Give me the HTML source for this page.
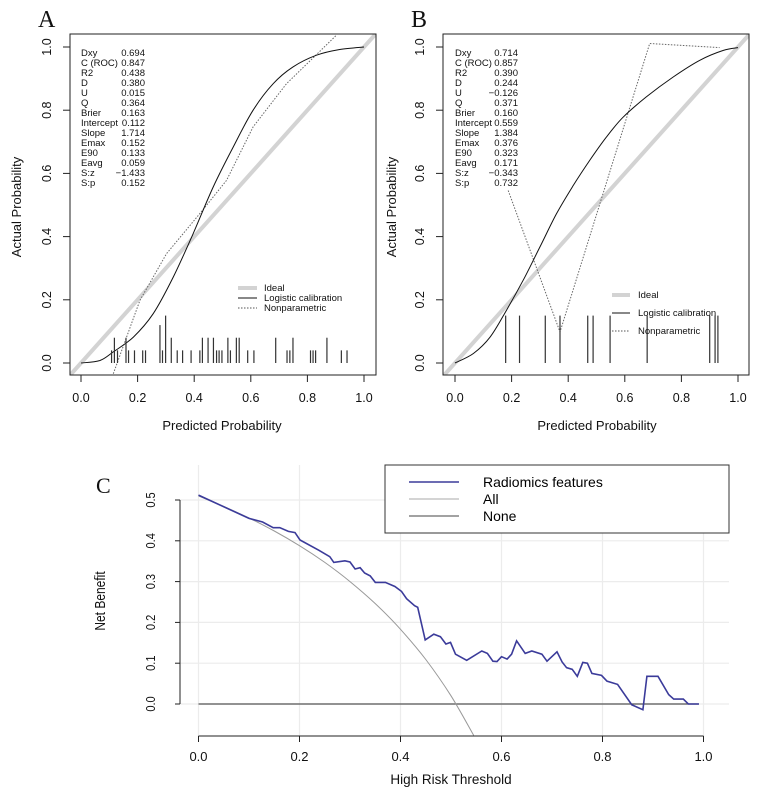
<!DOCTYPE html>
<html><head><meta charset="utf-8">
<style>
html,body{margin:0;padding:0;background:#fff;}
svg{display:block;font-family:"Liberation Sans",sans-serif;}
.st{font-size:9.5px;fill:#111;}
.tk{font-size:12.5px;fill:#111;}
.lab{font-size:13px;fill:#111;}
.pl{font-family:"Liberation Serif",serif;font-size:24px;fill:#111;}
</style></head>
<body>
<svg id="fig" width="778" height="796" viewBox="0 0 778 796">
  <text class="pl" x="38" y="27">A</text>
  <text class="pl" x="411" y="27">B</text>
  <text class="pl" x="96" y="493" style="font-size:22px">C</text>

  <g id="pA"></g>
  <g id="pB"></g>
  <g id="pC"></g>

  <text class="lab" x="222" y="430" text-anchor="middle">Predicted Probability</text>
  <text class="lab" transform="translate(21,207) rotate(-90)" text-anchor="middle">Actual Probability</text>
  <text class="lab" x="597" y="430" text-anchor="middle">Predicted Probability</text>
  <text class="lab" transform="translate(396,207) rotate(-90)" text-anchor="middle">Actual Probability</text>
  <text class="lab" x="451" y="784" text-anchor="middle" style="font-size:13.5px">High Risk Threshold</text>
  <text class="lab" transform="translate(105,601) rotate(-90) scale(0.8,1)" text-anchor="middle" style="font-size:15px">Net Benefit</text>

  <g>
    <text class="st" x="81" y="56">Dxy</text><text class="st" x="145" y="56" text-anchor="end">0.694</text>
    <text class="st" x="81" y="66">C (ROC)</text><text class="st" x="145" y="66" text-anchor="end">0.847</text>
    <text class="st" x="81" y="76">R2</text><text class="st" x="145" y="76" text-anchor="end">0.438</text>
    <text class="st" x="81" y="86">D</text><text class="st" x="145" y="86" text-anchor="end">0.380</text>
    <text class="st" x="81" y="96">U</text><text class="st" x="145" y="96" text-anchor="end">0.015</text>
    <text class="st" x="81" y="106">Q</text><text class="st" x="145" y="106" text-anchor="end">0.364</text>
    <text class="st" x="81" y="116">Brier</text><text class="st" x="145" y="116" text-anchor="end">0.163</text>
    <text class="st" x="81" y="126">Intercept</text><text class="st" x="145" y="126" text-anchor="end">0.112</text>
    <text class="st" x="81" y="136">Slope</text><text class="st" x="145" y="136" text-anchor="end">1.714</text>
    <text class="st" x="81" y="146">Emax</text><text class="st" x="145" y="146" text-anchor="end">0.152</text>
    <text class="st" x="81" y="156">E90</text><text class="st" x="145" y="156" text-anchor="end">0.133</text>
    <text class="st" x="81" y="166">Eavg</text><text class="st" x="145" y="166" text-anchor="end">0.059</text>
    <text class="st" x="81" y="176">S:z</text><text class="st" x="145" y="176" text-anchor="end">−1.433</text>
    <text class="st" x="81" y="186">S:p</text><text class="st" x="145" y="186" text-anchor="end">0.152</text>
  </g>
  <g>
    <text class="st" x="455" y="56">Dxy</text><text class="st" x="518" y="56" text-anchor="end">0.714</text>
    <text class="st" x="455" y="66">C (ROC)</text><text class="st" x="518" y="66" text-anchor="end">0.857</text>
    <text class="st" x="455" y="76">R2</text><text class="st" x="518" y="76" text-anchor="end">0.390</text>
    <text class="st" x="455" y="86">D</text><text class="st" x="518" y="86" text-anchor="end">0.244</text>
    <text class="st" x="455" y="96">U</text><text class="st" x="518" y="96" text-anchor="end">−0.126</text>
    <text class="st" x="455" y="106">Q</text><text class="st" x="518" y="106" text-anchor="end">0.371</text>
    <text class="st" x="455" y="116">Brier</text><text class="st" x="518" y="116" text-anchor="end">0.160</text>
    <text class="st" x="455" y="126">Intercept</text><text class="st" x="518" y="126" text-anchor="end">0.559</text>
    <text class="st" x="455" y="136">Slope</text><text class="st" x="518" y="136" text-anchor="end">1.384</text>
    <text class="st" x="455" y="146">Emax</text><text class="st" x="518" y="146" text-anchor="end">0.376</text>
    <text class="st" x="455" y="156">E90</text><text class="st" x="518" y="156" text-anchor="end">0.323</text>
    <text class="st" x="455" y="166">Eavg</text><text class="st" x="518" y="166" text-anchor="end">0.171</text>
    <text class="st" x="455" y="176">S:z</text><text class="st" x="518" y="176" text-anchor="end">−0.343</text>
    <text class="st" x="455" y="186">S:p</text><text class="st" x="518" y="186" text-anchor="end">0.732</text>
  </g>

  <g>
    <line x1="238" y1="288" x2="257" y2="288" stroke="#d3d3d3" stroke-width="4"/>
    <text class="st" x="264" y="291">Ideal</text>
    <line x1="238" y1="298" x2="257" y2="298" stroke="#111" stroke-width="1"/>
    <text class="st" x="264" y="301">Logistic calibration</text>
    <line x1="238" y1="308" x2="257" y2="308" stroke="#555" stroke-width="1" stroke-dasharray="1.5,1.5"/>
    <text class="st" x="264" y="311">Nonparametric</text>
  </g>
  <g>
    <line x1="612" y1="295" x2="630" y2="295" stroke="#d3d3d3" stroke-width="4"/>
    <text class="st" x="638" y="298">Ideal</text>
    <line x1="612" y1="313" x2="630" y2="313" stroke="#111" stroke-width="1"/>
    <text class="st" x="638" y="316">Logistic calibration</text>
    <line x1="612" y1="331" x2="630" y2="331" stroke="#555" stroke-width="1" stroke-dasharray="1.5,1.5"/>
    <text class="st" x="638" y="334">Nonparametric</text>
  </g>
  <g>
    <rect x="385" y="465" width="344" height="68" fill="#fff" stroke="#333" stroke-width="1"/>
    <line x1="409" y1="482" x2="459" y2="482" stroke="#3b3b9a" stroke-width="1.5"/>
    <text x="483" y="487" style="font-size:14px">Radiomics features</text>
    <line x1="409" y1="499" x2="459" y2="499" stroke="#aaa" stroke-width="1"/>
    <text x="483" y="504" style="font-size:14px">All</text>
    <line x1="409" y1="516" x2="459" y2="516" stroke="#444" stroke-width="1"/>
    <text x="483" y="521" style="font-size:14px">None</text>
  </g>
</svg>
<script>
const ticksCal = [0, 0.2, 0.4, 0.6, 0.8, 1.0];
const tickLabelsCal = ["0.0", "0.2", "0.4", "0.6", "0.8", "1.0"];
const logisticAx = [0, 0.067, 0.114, 0.185, 0.255, 0.326, 0.396, 0.467, 0.538, 0.608, 0.679, 0.749, 0.832, 0.914, 1];
const logisticAy = [0, 0.008, 0.035, 0.082, 0.156, 0.272, 0.409, 0.557, 0.684, 0.8, 0.884, 0.937, 0.974, 0.992, 1];
const nonparAx = [0.114, 0.208, 0.302, 0.42, 0.514, 0.608, 0.726, 0.902];
const nonparAy = [-0.034, 0.198, 0.346, 0.473, 0.578, 0.747, 0.884, 1.037];
const rugAx = [0.108, 0.118, 0.129, 0.159, 0.168, 0.189, 0.218, 0.228, 0.279, 0.288, 0.299, 0.319, 0.34, 0.359, 0.389, 0.42, 0.429, 0.449, 0.468, 0.479, 0.488, 0.498, 0.519, 0.528, 0.549, 0.559, 0.589, 0.611, 0.688, 0.728, 0.738, 0.749, 0.811, 0.82, 0.829, 0.869, 0.92, 0.94];
const rugAh = [0.04, 0.08, 0.04, 0.08, 0.04, 0.04, 0.04, 0.04, 0.12, 0.04, 0.15, 0.08, 0.04, 0.04, 0.04, 0.04, 0.08, 0.08, 0.08, 0.04, 0.04, 0.04, 0.08, 0.04, 0.08, 0.08, 0.04, 0.04, 0.08, 0.04, 0.04, 0.08, 0.04, 0.04, 0.04, 0.08, 0.04, 0.04];
const logisticBx = [0, 0.065, 0.124, 0.182, 0.241, 0.3, 0.359, 0.418, 0.476, 0.535, 0.594, 0.676, 0.771, 0.865, 0.947, 1];
const logisticBy = [0, 0.03, 0.082, 0.167, 0.262, 0.367, 0.473, 0.562, 0.641, 0.715, 0.778, 0.842, 0.905, 0.958, 0.989, 0.998];
const nonparBx = [0.188, 0.371, 0.688, 0.935];
const nonparBy = [0.546, 0.098, 1.011, 0.998];
const rugBx = [0.179, 0.228, 0.319, 0.371, 0.469, 0.488, 0.548, 0.679, 0.9, 0.919, 0.929];
const rugBh = [0.15, 0.15, 0.15, 0.15, 0.15, 0.15, 0.15, 0.15, 0.15, 0.15, 0.15];

const ticksCx = [0, 0.2, 0.4, 0.6, 0.8, 1.0];
const tickLabelsCx = ["0.0", "0.2", "0.4", "0.6", "0.8", "1.0"];
const ticksCy = [0, 0.1, 0.2, 0.3, 0.4, 0.5];
const tickLabelsCy = ["0.0", "0.1", "0.2", "0.3", "0.4", "0.5"];
const radT = [0, 0.10, 0.127, 0.148, 0.161, 0.178, 0.191, 0.201, 0.238, 0.26, 0.268, 0.29, 0.30, 0.31, 0.32, 0.329, 0.34, 0.35, 0.37, 0.389, 0.402, 0.412, 0.428, 0.434, 0.449, 0.466, 0.479, 0.49, 0.499, 0.509, 0.531, 0.561, 0.572, 0.583, 0.591, 0.6, 0.611, 0.62, 0.63, 0.647, 0.66, 0.68, 0.69, 0.71, 0.72, 0.729, 0.74, 0.75, 0.761, 0.77, 0.779, 0.798, 0.809, 0.83, 0.858, 0.88, 0.888, 0.91, 0.931, 0.941, 0.96, 0.97, 0.991];
const radNB = [0.512, 0.455, 0.446, 0.432, 0.432, 0.423, 0.420, 0.402, 0.377, 0.361, 0.347, 0.351, 0.348, 0.331, 0.334, 0.321, 0.314, 0.298, 0.298, 0.288, 0.276, 0.258, 0.241, 0.237, 0.157, 0.171, 0.165, 0.147, 0.151, 0.122, 0.107, 0.130, 0.124, 0.105, 0.104, 0.116, 0.110, 0.122, 0.155, 0.124, 0.130, 0.122, 0.105, 0.128, 0.103, 0.089, 0.085, 0.068, 0.102, 0.100, 0.075, 0.070, 0.056, 0.048, -0.002, -0.014, 0.068, 0.068, 0.023, 0.012, 0.012, 0, 0];
const allT = [0, 0.05, 0.1, 0.15, 0.2, 0.25, 0.3, 0.35, 0.4, 0.45, 0.5, 0.545];
const allNB = [0.51, 0.484, 0.456, 0.424, 0.388, 0.347, 0.30, 0.246, 0.183, 0.109, 0.02, -0.077];
const noneT = [0, 0.99];
const noneNB = [0, 0];

const NS = "http://www.w3.org/2000/svg";
function mk(parent, tag, name, attrs) {
  const el = document.createElementNS(NS, tag);
  
  
  for (const k in attrs) el.setAttribute(k, attrs[k]);
  parent.appendChild(el);
  return el;
}
function poly(xs, ys, fx, fy) {
  return xs.map((v, i) => fx(v).toFixed(1) + "," + fy(ys[i]).toFixed(1)).join(" ");
}
function smooth(xs, ys, fx, fy) {
  const p = xs.map((v, i) => [fx(v), fy(ys[i])]);
  let d = "M" + p[0][0].toFixed(1) + "," + p[0][1].toFixed(1);
  for (let i = 0; i < p.length - 1; i++) {
    const p0 = p[i - 1] || p[i], p1 = p[i], p2 = p[i + 1], p3 = p[i + 2] || p2;
    const c1x = p1[0] + (p2[0] - p0[0]) / 6, c1y = p1[1] + (p2[1] - p0[1]) / 6;
    const c2x = p2[0] - (p3[0] - p1[0]) / 6, c2y = p2[1] - (p3[1] - p1[1]) / 6;
    d += " C" + c1x.toFixed(1) + "," + c1y.toFixed(1) + " " + c2x.toFixed(1) + "," + c2y.toFixed(1) + " " + p2[0].toFixed(1) + "," + p2[1].toFixed(1);
  }
  return d;
}

function calPanel(g, id, x0, boxL, boxR, logX, logY, npX, npY, rugX, rugH) {
  const sx = v => x0 + v * 283;
  const sy = v => 363 - v * 316;
  const boxT = 34, boxB = 375;
  const defs = mk(g, 'defs', 'clip-defs-' + id, {});
  const cp = mk(defs, 'clipPath', 'clip-' + id, {id: 'clip' + id});
  mk(cp, 'rect', 'clip-rect-' + id, {x: boxL, y: boxT, width: boxR - boxL, height: boxB - boxT});
  const inner = mk(g, 'g', 'plot-area-' + id, {'clip-path': 'url(#clip' + id + ')'});
  mk(inner, 'line', 'ideal-line-' + id, {x1: sx(-0.1), y1: sy(-0.1), x2: sx(1.1), y2: sy(1.1), stroke: '#d3d3d3', 'stroke-width': 4});
  mk(inner, 'polyline', 'nonparametric-curve-' + id, {points: poly(npX, npY, sx, sy), fill: 'none', stroke: '#666', 'stroke-width': 1, 'stroke-dasharray': '1.5,1.5'});
  mk(inner, 'path', 'logistic-curve-' + id, {d: smooth(logX, logY, sx, sy), fill: 'none', stroke: '#111', 'stroke-width': 1});
  rugX.forEach((v, i) => {
    mk(inner, 'line', 'rug-mark-' + id, {x1: sx(v), y1: sy(0), x2: sx(v), y2: sy(rugH[i]), stroke: '#333', 'stroke-width': 1.2});
  });
  mk(g, 'rect', 'plot-box-' + id, {x: boxL, y: boxT, width: boxR - boxL, height: boxB - boxT, fill: 'none', stroke: '#222', 'stroke-width': 1});
  ticksCal.forEach((v, i) => {
    mk(g, 'line', 'x-tick-' + id, {x1: sx(v), y1: boxB, x2: sx(v), y2: boxB + 7, stroke: '#222'});
    const t = mk(g, 'text', 'x-tick-label-' + id, {x: sx(v), y: 402, 'text-anchor': 'middle', class: 'tk'});
    t.textContent = tickLabelsCal[i];
    mk(g, 'line', 'y-tick-' + id, {x1: boxL, y1: sy(v), x2: boxL - 7, y2: sy(v), stroke: '#222'});
    const ty = mk(g, 'text', 'y-tick-label-' + id, {transform: 'translate(' + (boxL - 19) + ',' + sy(v) + ') rotate(-90)', 'text-anchor': 'middle', class: 'tk'});
    ty.textContent = tickLabelsCal[i];
  });
}
calPanel(document.getElementById('pA'), 'a', 81, 70, 376, logisticAx, logisticAy, nonparAx, nonparAy, rugAx, rugAh);
calPanel(document.getElementById('pB'), 'b', 455, 443, 749, logisticBx, logisticBy, nonparBx, nonparBy, rugBx, rugBh);

(function () {
  const g = document.getElementById('pC');
  const sx = t => 198.5 + t * 505;
  const sy = v => 704 - v * 408;
  ticksCx.forEach(v => {
    mk(g, 'line', 'grid-x-c', {x1: sx(v), y1: 465, x2: sx(v), y2: 736, stroke: '#ececec', 'stroke-width': 1.2});
  });
  ticksCy.forEach(v => {
    mk(g, 'line', 'grid-y-c', {x1: 180, y1: sy(v), x2: 729, y2: sy(v), stroke: '#ececec', 'stroke-width': 1.2});
  });
  mk(g, 'polyline', 'none-line', {points: poly(noneT, noneNB, sx, sy), fill: 'none', stroke: '#555', 'stroke-width': 1.3});
  mk(g, 'path', 'all-curve', {d: smooth(allT, allNB, sx, sy), fill: 'none', stroke: '#999', 'stroke-width': 1});
  mk(g, 'polyline', 'radiomics-curve', {points: poly(radT, radNB, sx, sy), fill: 'none', stroke: '#3b3b9a', 'stroke-width': 1.6});
  mk(g, 'line', 'x-axis-c', {x1: sx(0), y1: 736, x2: sx(1), y2: 736, stroke: '#222'});
  ticksCx.forEach((v, i) => {
    mk(g, 'line', 'x-tick-c', {x1: sx(v), y1: 736, x2: sx(v), y2: 742, stroke: '#222'});
    const t = mk(g, 'text', 'x-tick-label-c', {x: sx(v), y: 761, 'text-anchor': 'middle', class: 'tk', style: 'font-size:13px'});
    t.textContent = tickLabelsCx[i];
  });
  mk(g, 'line', 'y-axis-c', {x1: 180, y1: sy(0), x2: 180, y2: sy(0.5), stroke: '#222'});
  ticksCy.forEach((v, i) => {
    mk(g, 'line', 'y-tick-c', {x1: 180, y1: sy(v), x2: 175, y2: sy(v), stroke: '#222'});
    const t = mk(g, 'text', 'y-tick-label-c', {transform: 'translate(' + 155 + ',' + sy(v) + ') rotate(-90) scale(0.85,1)', 'text-anchor': 'middle', class: 'tk', style: 'font-size:13px'});
    t.textContent = tickLabelsCy[i];
  });
})();
</script>
</body></html>
